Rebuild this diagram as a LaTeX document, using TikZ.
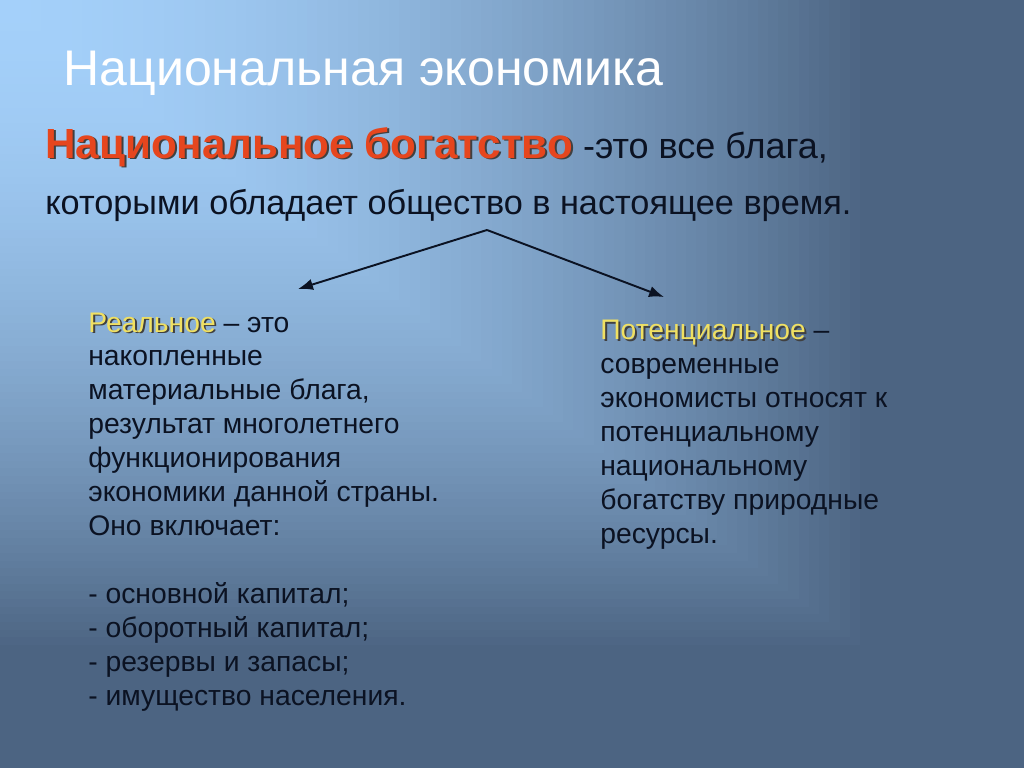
\documentclass[tikz,border=0pt]{standalone}
\usepackage{fontspec}
\setmainfont{Liberation Sans}
\usetikzlibrary{arrows.meta}
\definecolor{bglight}{HTML}{A4D0FA}
\definecolor{bgdark}{HTML}{4C6482}
\definecolor{wealthred}{HTML}{E6461E}
\definecolor{accentyellow}{HTML}{F0E062}
\definecolor{inkdark}{HTML}{0B1222}
\colorlet{wordshadow}{black!75}
\newcommand{\shadowword}[2]{%
  \makebox[0pt][l]{\hspace{1.1pt}\raisebox{-1.1pt}{\textcolor{wordshadow}{#2}}}\textcolor{#1}{#2}}
\tikzset{
  titletext/.style={text=white, inner sep=0pt, font=\fontsize{28.5pt}{34pt}\selectfont},
  headtext/.style={text=inkdark, inner sep=0pt, font=\fontsize{20.5pt}{25pt}\selectfont},
  bodytext/.style={text=inkdark, inner sep=0pt, align=left,
    font=\fontsize{16.1pt}{19.3pt}\selectfont},
  arrowline/.style={draw=inkdark, line width=1.1pt, -{Latex[length=8.5pt, width=6.5pt]}}
}
\begin{document}
\begin{tikzpicture}[x=0.02cm, y=-0.02cm]
  \useasboundingbox (0,0) rectangle (1024,768);
  % corner gradient of the slide
  \foreach \k in {100,99,...,1} {
    \pgfmathsetmacro\shadepct{max(0,100*(1-pow(\k/85,1.8)))}
    \fill[bglight!\shadepct!bgdark] (0,0) rectangle (10.24*\k,7.68*\k);
  }

  \node[titletext, anchor=base west] (title) at (63,85) {Национальная экономика};
  \node[headtext, anchor=base west] (wealth) at (45,158)
    {\shadowword{wealthred}{\fontsize{24pt}{28pt}\selectfont\bfseries Национальное богатство} -это все блага,};
  \node[headtext, anchor=base west, font=\fontsize{19.5pt}{24pt}\selectfont] (wealthdef) at (45,214)
    {которыми обладает общество в настоящее время.};

  \coordinate (apex) at (487,230);
  \coordinate (realtip) at (298,289);
  \coordinate (potentialtip) at (664,297);
  \path[arrowline] (apex) -- (realtip);
  \path[arrowline] (apex) -- (potentialtip);

  \node[bodytext, anchor=base west] (real) at (88,705) {%
    \shadowword{accentyellow}{Реальное} – это\\
    накопленные\\
    материальные блага,\\
    результат многолетнего\\
    функционирования\\
    экономики данной страны.\\
    Оно включает:\\[19.3pt]
    - основной капитал;\\
    - оборотный капитал;\\
    - резервы и запасы;\\
    - имущество населения.};
  \node[bodytext, anchor=base west] (potential) at (600,543) {%
    \shadowword{accentyellow}{Потенциальное} –\\
    современные\\
    экономисты относят к\\
    потенциальному\\
    национальному\\
    богатству природные\\
    ресурсы.};
\end{tikzpicture}
\end{document}
